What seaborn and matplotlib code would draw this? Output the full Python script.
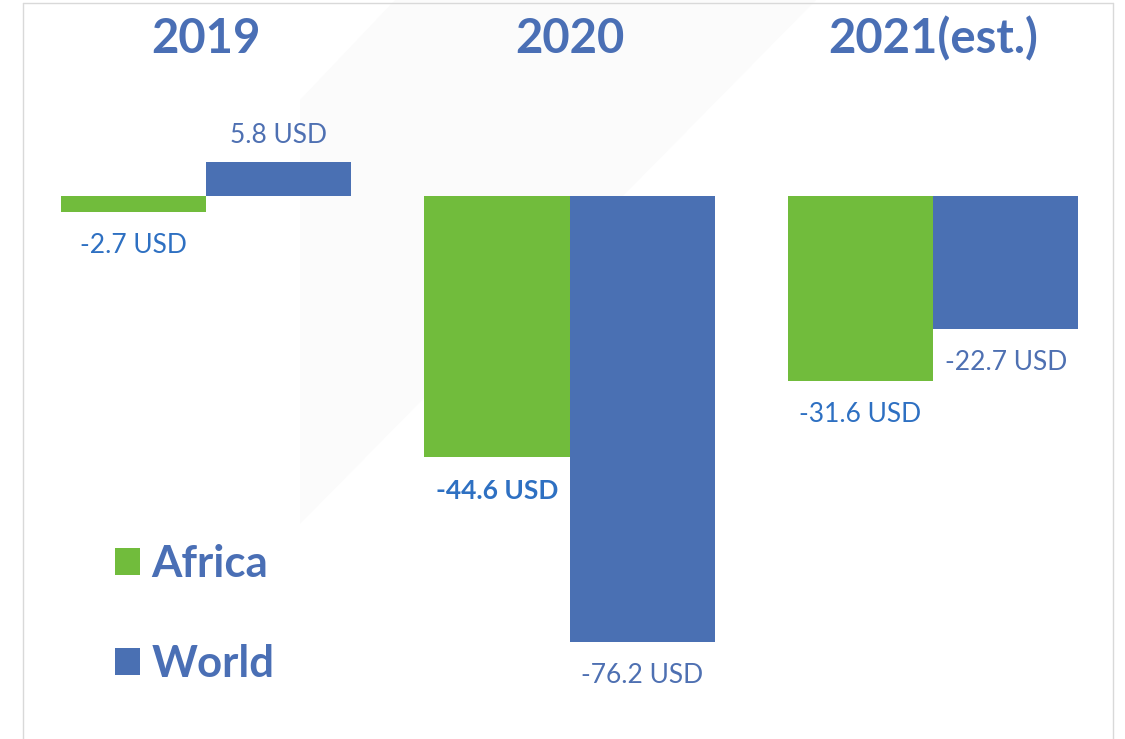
import pandas as pd
import numpy as np
import matplotlib.pyplot as plt
import seaborn as sns
from matplotlib.patches import Patch, Polygon
from matplotlib.lines import Line2D

# data
years = ["2019", "2020", "2021(est.)"]
regions = ["Africa", "World"]
africa = [-2.7, -44.6, -31.6]
world = [5.8, -76.2, -22.7]

df = pd.DataFrame({
    "year": years * 2,
    "region": ["Africa"] * 3 + ["World"] * 3,
    "value": africa + world,
})

green = "#71BC3C"
blue = "#4A70B3"
title_col = "#4A6FB5"
africa_lbl = "#2E70C2"
world_lbl = "#4E70B2"

sns.set_style("white")
plt.rcParams["font.family"] = ["Lato", "DejaVu Sans"]

fig = plt.figure(figsize=(11.25, 7.39), dpi=100)
fig.patch.set_facecolor("white")

# faint watermark shape in the background (figure pixel coords -> fraction)
W, H = 1125, 739
def px(pts):
    return [(x / W, 1 - y / H) for x, y in pts]
fig.patches.append(Polygon(px([(300, 100), (395, 0), (816, 0), (300, 524)]),
                           closed=True, transform=fig.transFigure,
                           facecolor="#FBFBFB", edgecolor="none", zorder=-1))

ax = fig.add_axes([0, 0, 1, 1])
ax.set_facecolor("none")

sns.barplot(data=df, x="year", y="value", hue="region", hue_order=regions,
            palette=[green, blue], width=0.8, saturation=1, linewidth=0,
            ax=ax)

ax.set_xlim(-0.567, 2.528)
ax.set_ylim(-92.8, 33.5)
ax.axis("off")

# value labels
for cont, col in zip(ax.containers, [africa_lbl, world_lbl]):
    for bar in cont:
        v = bar.get_height()
        xc = bar.get_x() + bar.get_width() / 2
        off = 18.8 if v > 0 else -24.4
        wt = "bold" if abs(v - (-44.6)) < 1e-6 else "normal"
        ax.annotate(f"{v:.1f} USD", xy=(xc, v), xytext=(0, off),
                    textcoords="offset points", ha="center", va="center",
                    fontsize=19, color=col, fontweight=wt)

# year headings
for i, yr in enumerate(years):
    ax.text(i, 0.947, yr, transform=ax.get_xaxis_transform(), ha="center",
            va="center", fontsize=34, fontweight="bold", color=title_col)

# legend
handles = [Patch(facecolor=green, edgecolor="none"),
           Patch(facecolor=blue, edgecolor="none")]
ax.legend(handles, regions, loc="upper left", bbox_to_anchor=(0.087, 0.288),
          frameon=False, prop={"size": 31.5, "weight": "bold"},
          labelcolor=title_col, handlelength=0.56, handleheight=0.56,
          handletextpad=0.27, labelspacing=1.38, borderaxespad=0)

# thin frame around the picture
fc = "#D9D9D9"
fig.add_artist(Line2D([23 / W, 23 / W], [0, 1 - 3 / H], color=fc, lw=1))
fig.add_artist(Line2D([23 / W, 1113 / W], [1 - 3 / H, 1 - 3 / H], color=fc, lw=1))
fig.add_artist(Line2D([1113 / W, 1113 / W], [0, 1 - 3 / H], color=fc, lw=1))

fig.savefig("out.png", dpi=100)
